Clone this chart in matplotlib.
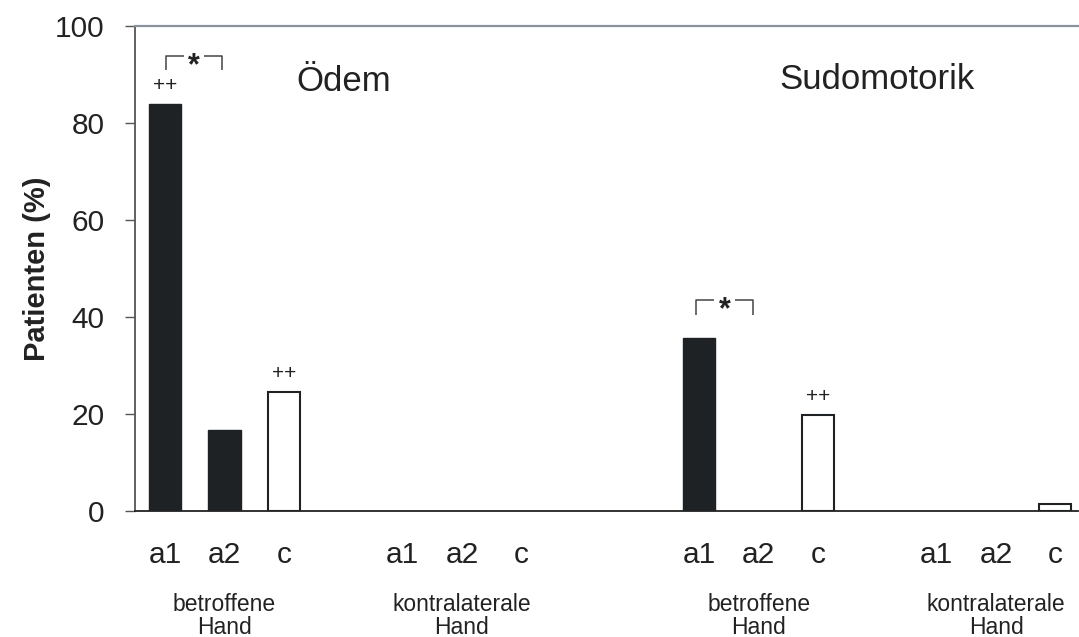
import numpy as np
import matplotlib
matplotlib.use("Agg")
import matplotlib.pyplot as plt

plt.rcParams["font.family"] = ["Liberation Sans", "DejaVu Sans"]

# data (percent of patients)
categories = ["a1", "a2", "c"]
groups = ["betroffene\nHand", "kontralaterale\nHand", "betroffene\nHand", "kontralaterale\nHand"]
oedem_betroffen = [84.0, 16.7, 24.6]
oedem_kontra = [0.0, 0.0, 0.0]
sudo_betroffen = [35.6, 0.0, 19.7]
sudo_kontra = [0.0, 0.0, 1.4]
panel_titles = ["Ödem", "Sudomotorik"]

DARK = "#1f2224"
TXT = "#222222"

group_start = [0, 4, 9, 13]
values = [oedem_betroffen, oedem_kontra, sudo_betroffen, sudo_kontra]

fig = plt.figure(figsize=(10.79, 6.37), dpi=100)
ax = fig.add_axes([0.125, 0.198, 0.874, 0.761])

xs, labels = [], []
for g, vals in zip(group_start, values):
    for k, (cat, v) in enumerate(zip(categories, vals)):
        x = g + k
        xs.append(x); labels.append(cat)
        if v <= 0:
            continue
        if cat == "c":
            ax.bar(x, v, width=0.54, color="white", edgecolor=DARK, linewidth=1.5, zorder=2)
        else:
            ax.bar(x, v, width=0.54, color=DARK, edgecolor=DARK, linewidth=1.0, zorder=2)

ax.set_xlim(-0.51, 15.38)
ax.set_ylim(0, 100)
ax.set_yticks([0, 20, 40, 60, 80, 100])
ax.set_xticks(xs)
ax.set_xticklabels(labels)
ax.tick_params(axis="x", length=0, pad=22, labelsize=21.5, labelcolor=TXT)
ax.tick_params(axis="y", direction="out", length=7, width=1.0, color="#555555",
               pad=15, labelsize=21.5, labelcolor=TXT)
ax.set_ylabel("Patienten (%)", fontsize=21, fontweight="bold", color=TXT, labelpad=3)

ax.spines["right"].set_visible(False)
ax.spines["left"].set_color("#555555"); ax.spines["left"].set_linewidth(1.3)
ax.spines["top"].set_color("#8a939c"); ax.spines["top"].set_linewidth(1.6)
ax.spines["bottom"].set_color("#222222"); ax.spines["bottom"].set_linewidth(1.3)
ax.spines["bottom"].set_zorder(3)

# group labels under the category ticks
for g, name in zip(group_start, groups):
    ax.text(g + 1, -17.0, name, ha="center", va="top", fontsize=16.5, color=TXT,
            linespacing=0.98, clip_on=False)

# panel titles
ax.text(3.0, 88.5, panel_titles[0], ha="center", va="center", fontsize=25, color=TXT)
ax.text(12.0, 89.0, panel_titles[1], ha="center", va="center", fontsize=25, color=TXT)


def bracket(x1, x2, y_low, y_high):
    xm = (x1 + x2) / 2
    gap = 0.17
    kw = dict(color="#444444", lw=1.1, solid_capstyle="butt")
    ax.plot([x1, x1, xm - gap], [y_low, y_high, y_high], **kw)
    ax.plot([xm + gap, x2, x2], [y_high, y_high, y_low], **kw)
    ax.text(xm, y_high - 2.0, "*", ha="center", va="center", fontsize=22,
            fontweight="bold", color=TXT)


bracket(0.02, 0.96, 90.9, 93.8)
bracket(8.95, 9.9, 40.5, 43.4)

# "++" marks above bars
for x, v in [(0, oedem_betroffen[0]), (2, oedem_betroffen[2]), (11, sudo_betroffen[2])]:
    ax.text(x, v + 3.8, "++", ha="center", va="center", fontsize=15, color=TXT)

fig.savefig("out.png", dpi=100)
